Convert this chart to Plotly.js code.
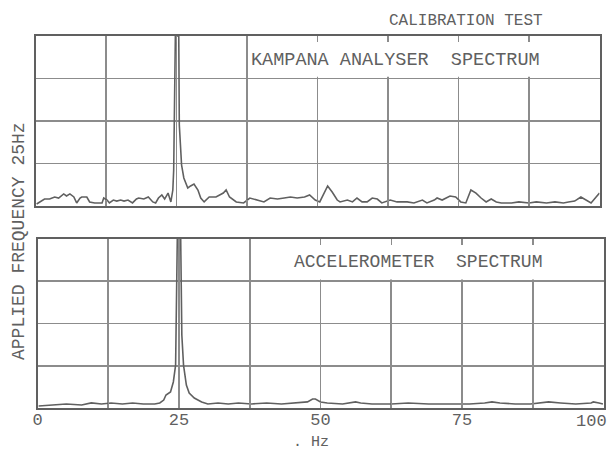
<!DOCTYPE html>
<html>
<head>
<meta charset="utf-8">
<script src="https://cdn.plot.ly/plotly-3.0.1.min.js"></script>
<style>html,body{margin:0;padding:0;background:#fff;}#chart{width:612px;height:453px;}</style>
</head>
<body>
<div id="chart"></div>
<script>
// ---- Data (frequency in Hz, amplitude in % of full scale) ----
var topFreq = [0.2,1.1,1.6,2.5,3.4,4.1,5.0,5.5,6.1,6.8,7.3,7.9,8.2,9.1,9.6,10.5,11.8,12.1,12.7,13.1,13.8,14.4,15.1,15.7,16.4,17.2,17.9,18.3,19.2,20.0,20.8,21.3,21.8,22.4,22.9,23.5,24.0,24.35,24.5,24.8,25.0,25.4,25.5,25.9,26.3,27.0,27.5,28.1,28.8,29.3,29.9,30.8,32.0,33.3,33.8,34.4,35.6,36.9,38.0,39.3,40.5,41.6,42.9,44.1,45.2,46.4,47.7,48.6,49.6,50.4,51.8,52.6,53.5,54.0,55.3,56.2,57.0,57.9,58.8,59.7,60.6,61.4,62.9,64.1,65.9,67.1,68.6,69.4,70.7,71.2,72.1,73.5,74.5,75.4,76.3,77.2,78.1,79.0,79.9,80.8,81.7,82.6,84.4,85.7,87.5,88.8,90.6,92.1,93.6,94.5,95.6,96.7,97.6,98.5,99.4,100];
var topAmp  = [1.2,2.9,4.1,4.1,5.3,4.7,7.1,5.9,7.1,5.3,1.8,4.7,5.3,5.3,2.4,1.8,1.8,4.7,3.5,1.8,3.5,2.9,3.5,2.9,3.5,1.8,4.1,4.7,4.1,5.3,2.4,1.8,4.7,6.5,4.1,7.6,2.4,9.4,21,100,100,100,47.6,24.1,16.5,10.6,11.8,12.9,9.4,4.7,2.4,5.3,5.3,7.6,9.4,5.3,2.4,1.8,4.7,3.5,2.4,4.7,4.1,4.7,5.3,4.7,5.3,6.5,3.5,2.4,11.8,8.2,3.5,2.4,3.5,2.4,4.7,2.4,2.4,4.7,4.1,1.8,3.5,2.4,2.4,1.8,3.5,1.8,3.5,4.7,3.5,5.9,5.3,2.4,1.8,9.4,7.6,4.7,2.4,4.1,2.4,1.8,1.8,2.4,1.8,2.4,1.8,2.4,1.8,2.4,2.9,5.3,3.5,1.8,5.3,7.6];

var botFreq = [0.2,2.5,5.1,7.8,9.5,11.3,13.0,15.0,16.8,18.7,20.7,21.6,22.3,22.7,23.5,24.0,24.4,24.7,25.0,25.3,25.5,25.8,26.3,26.8,27.7,29.0,30.1,31.9,33.7,35.5,37.8,40.5,43.1,45.8,47.7,48.6,49.1,50.0,51.2,53.9,55.6,56.2,57.1,59.1,62.5,65.5,69.1,72.7,76.3,79.0,80.3,81.7,84.4,87.1,90.3,92.4,95.1,97.8,98.2,99.2,99.9];
var botAmp  = [1.2,1.8,2.4,1.8,3.0,2.4,3.0,2.4,3.0,2.4,2.4,3.0,4.7,7.7,9.5,15.4,25.4,100,100,100,43.2,25.4,13.6,8.9,5.9,3.6,2.4,3.0,2.4,3.0,2.4,3.0,2.4,3.0,3.6,5.3,5.3,3.6,3.0,2.4,3.0,3.6,3.0,2.4,2.4,3.0,2.4,2.4,2.4,3.0,3.6,3.0,2.4,2.4,3.6,3.0,2.4,3.0,3.6,3.0,2.4];

var tickVals = [0,12.5,25,37.5,50,62.5,75,87.5,100];
var tickText = ['0','','25','','50','','75','',''];
var lastTickText = '100';   // drawn just inside the right edge, as in the reference

var titleText = 'CALIBRATION TEST';
var topLabel = 'KAMPANA ANALYSER  SPECTRUM';
var botLabel = 'ACCELEROMETER  SPECTRUM';
var yLabel = 'APPLIED FREQUENCY 25Hz';
var xLabel = '. Hz';

// ---- Styling ----
var W = 612, H = 453;
var ink = '#606060';
var gridCol = '#8c8c8c';
var mono = 'Liberation Mono, DejaVu Sans Mono, monospace';

function px(x){ return x / W; }
function py(y){ return 1 - y / H; }

var traces = [
  {x: topFreq, y: topAmp, xaxis: 'x', yaxis: 'y', mode: 'lines',
   line: {color: ink, width: 1.6}, hoverinfo: 'skip', showlegend: false},
  {x: botFreq, y: botAmp, xaxis: 'x2', yaxis: 'y2', mode: 'lines',
   line: {color: ink, width: 1.6}, hoverinfo: 'skip', showlegend: false}
];

function xax(domain, anchor, labels){
  return {
    domain: domain, anchor: anchor, range: [0, 100],
    tickmode: 'array', tickvals: tickVals, ticktext: tickText,
    showticklabels: labels, ticks: 'inside', ticklen: 6, tickwidth: 1.5, tickcolor: gridCol,
    showgrid: true, gridcolor: gridCol, gridwidth: 1.8,
    showline: true, linecolor: ink, linewidth: 2, mirror: 'ticks',
    zeroline: false, fixedrange: true,
    tickfont: {family: mono, size: 17, color: ink},
    ticklabeloverflow: 'allow',
    ticklabelstandoff: -5
  };
}
function yax(domain, anchor){
  return {
    domain: domain, anchor: anchor, range: [0, 100],
    tickmode: 'linear', tick0: 0, dtick: 25,
    showticklabels: false, ticks: '',
    showgrid: true, gridcolor: gridCol, gridwidth: 1.8,
    showline: true, linecolor: ink, linewidth: 2, mirror: true,
    zeroline: false, fixedrange: true
  };
}

var layout = {
  width: W, height: H,
  margin: {l: 0, r: 0, t: 0, b: 0},
  paper_bgcolor: '#ffffff', plot_bgcolor: '#ffffff',
  showlegend: false,
  xaxis: xax([px(35.5), px(599.5)], 'y', false),
  yaxis: yax([py(206), py(36)], 'x'),
  xaxis2: xax([px(37.5), px(603.5)], 'y2', true),
  yaxis2: yax([py(408), py(239)], 'x2'),
  shapes: [
    {type: 'rect', xref: 'x', yref: 'y', x0: 38.3, x1: 100, y0: 76, y1: 100,
     fillcolor: '#ffffff', line: {width: 0}, layer: 'between'},
    {type: 'rect', xref: 'x2', yref: 'y2', x0: 38.3, x1: 100, y0: 76, y1: 100,
     fillcolor: '#ffffff', line: {width: 0}, layer: 'between'}
  ],
  annotations: [
    {text: titleText, xref: 'paper', yref: 'paper', x: px(466), y: py(21),
     showarrow: false, xanchor: 'center', yanchor: 'middle',
     font: {family: mono, size: 16, color: ink}},
    {text: topLabel, xref: 'paper', yref: 'paper', x: px(395), y: py(60),
     showarrow: false, xanchor: 'center', yanchor: 'middle',
     font: {family: mono, size: 18.5, color: ink}},
    {text: botLabel, xref: 'paper', yref: 'paper', x: px(418), y: py(262),
     showarrow: false, xanchor: 'center', yanchor: 'middle',
     font: {family: mono, size: 18, color: ink}},
    {text: yLabel, xref: 'paper', yref: 'paper', x: px(19), y: py(241),
     showarrow: false, xanchor: 'center', yanchor: 'middle', textangle: -90,
     font: {family: mono, size: 18, color: ink}},
    {text: xLabel, xref: 'paper', yref: 'paper', x: px(311), y: py(442),
     showarrow: false, xanchor: 'center', yanchor: 'middle',
     font: {family: mono, size: 15, color: ink}},
    {text: lastTickText, xref: 'paper', yref: 'paper', x: px(609), y: py(421),
     showarrow: false, xanchor: 'right', yanchor: 'middle',
     font: {family: mono, size: 17, color: ink}}
  ]
};

Plotly.newPlot('chart', traces, layout, {staticPlot: true, displayModeBar: false});
</script>
</body>
</html>
